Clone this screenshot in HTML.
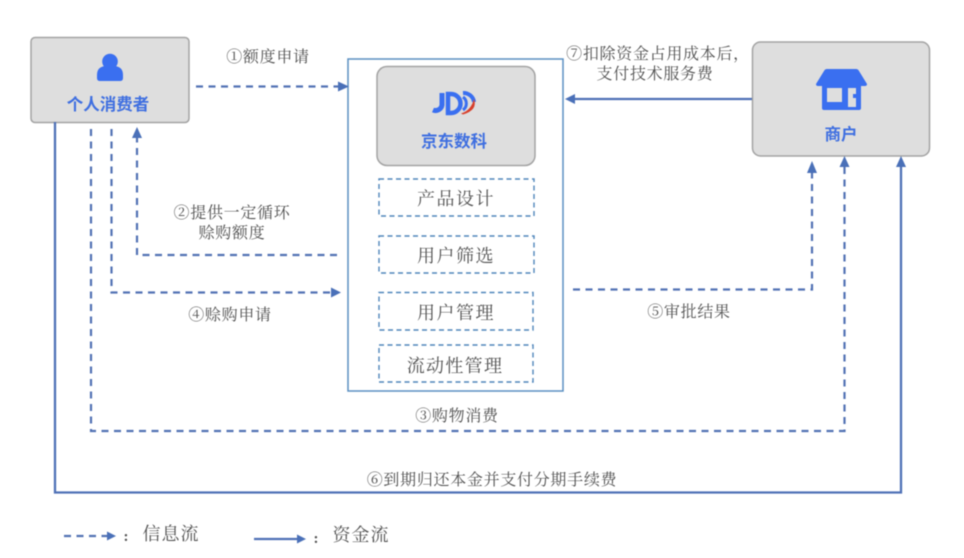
<!DOCTYPE html>
<html><head><meta charset="utf-8">
<style>
html,body{margin:0;padding:0;background:#fff;width:964px;height:558px;overflow:hidden}
svg{display:block;filter:blur(0.45px)}
.t{font-family:"Liberation Serif","Noto Serif CJK SC",serif;fill:#505050;text-anchor:middle}
.e{font-size:16px;letter-spacing:.7px}
.b{font-family:"Liberation Sans","Noto Sans CJK SC",sans-serif;font-weight:700;fill:#3f6fe0;text-anchor:middle;font-size:16.5px}
.d{fill:none;stroke:#5272b4;stroke-width:2.200;stroke-dasharray:7 5.500}
.s{fill:none;stroke:#4f71b6;stroke-width:2.300}
.a{fill:#4a70b8}
.x{fill:none;stroke:#4f86bb;stroke-width:1.400;stroke-dasharray:5 3.500}
</style></head><body>
<svg width="964" height="558" viewBox="0 0 964 558" xmlns="http://www.w3.org/2000/svg">
<!-- boxes -->
<rect x="31" y="37.500" width="158" height="85" rx="4" fill="#dedede" stroke="#a3a3a3" stroke-width="1.500"/>
<rect x="752.500" y="42" width="177" height="114" rx="8" fill="#dedede" stroke="#a3a3a3" stroke-width="1.500"/>
<rect x="348" y="59" width="215" height="332" fill="#fff" stroke="#5b8fc2" stroke-width="1.500"/>
<rect x="377" y="66.500" width="158" height="99" rx="10" fill="#dedede" stroke="#a3a3a3" stroke-width="1.500"/>
<rect x="379" y="179" width="155" height="37" class="x"/>
<rect x="379" y="236" width="155" height="37" class="x"/>
<rect x="379" y="292.500" width="154" height="37.500" class="x"/>
<rect x="379" y="345" width="154" height="37" class="x"/>
<!-- person icon -->
<circle cx="110" cy="61.500" r="7.800" fill="#3a6ff0"/>
<path d="M97 78 q0 3 3 3 h20 q3 0 3 -3 v-3 q0 -8 -8 -9 q-5 3 -10 0 q-8 1 -8 9 z" fill="#3a6ff0"/>
<!-- store icon -->
<path d="M825 69 h31 q2 0 3 2 l8 13 q0 2 -2 2 h-47 q-2 0 -2 -2 l8 -13 q1 -2 3 -2 z" fill="#3a6ff0"/>
<path d="M822 86 h39 v22 q0 2 -2 2 h-35 q-2 0 -2 -2 z" fill="#3a6ff0"/>
<rect x="827" y="88" width="15" height="14" fill="#dedede"/>
<rect x="848" y="88" width="8" height="19" fill="#dedede"/>
<rect x="853" y="94" width="4" height="4" fill="#3a6ff0"/>
<!-- JD logo -->
<path d="M442 93 V105 a6.500 6.500 0 0 1 -9 5" fill="none" stroke="#3a6ff0" stroke-width="5"/>
<path d="M448 94 h3 a9.500 9.500 0 0 1 0 19 h-3 z" fill="none" stroke="#3a6ff0" stroke-width="4.500"/>
<path d="M463 93 a10.500 10.500 0 0 1 11 9" fill="none" stroke="#3a6ff0" stroke-width="4"/>
<path d="M463 97 a8 8 0 0 1 0 13" fill="none" stroke="#3a6ff0" stroke-width="3"/>
<path d="M474 99 q4 11 -11 15.500 l-2 -1 q10 -3 13 -14.500 z" fill="#d8402c"/>
<!-- bold labels -->
<text class="b" x="108" y="110">个人消费者</text>
<text class="b" x="454" y="147">京东数科</text>
<text class="b" x="841" y="140">商户</text>
<!-- box labels -->
<text class="t" x="456" y="205" font-size="18" letter-spacing="1.500">产品设计</text>
<text class="t" x="456" y="262" font-size="18" letter-spacing="1.500">用户筛选</text>
<text class="t" x="456" y="319" font-size="18" letter-spacing="1.500">用户管理</text>
<text class="t" x="455" y="372" font-size="18" letter-spacing="1.300">流动性管理</text>
<!-- edge labels -->
<text class="t e" x="268" y="62">①额度申请</text>
<text class="t e" x="232" y="218">②提供一定循环</text>
<text class="t e" x="232" y="238">赊购额度</text>
<text class="t e" x="230" y="320">④赊购申请</text>
<text class="t e" x="689" y="317">⑤审批结果</text>
<text class="t e" x="457" y="421">③购物消费</text>
<text class="t e" x="492" y="485">⑥到期归还本金并支付分期手续费</text>
<text class="t e" x="658" y="59">⑦扣除资金占用成本后，</text>
<text class="t e" x="655" y="79">支付技术服务费</text>
<!-- connectors -->
<path class="d" d="M196 86.500 H340"/>
<path class="a" d="M338 81.500 L349 86.500 L338 91.500 z"/>
<path class="d" d="M337 255 H137 V136"/>
<path class="a" d="M132 138 L137 127 L142 138 z"/>
<path class="d" d="M111.500 129 V292.500 H332"/>
<path class="a" d="M331 287.500 L341 292.500 L331 297.500 z"/>
<path class="d" d="M91 129 V431 H844.500 V164"/>
<path class="a" d="M839.500 167 L844.500 156 L849.500 167 z"/>
<path class="d" d="M573 289.500 H812 V172"/>
<path class="a" d="M807 173 L812 161 L817 173 z"/>
<path class="s" d="M55 122 V492.500 H901 V164"/>
<path class="a" d="M896 167 L901 156 L906 167 z"/>
<path class="s" d="M752 99 H572"/>
<path class="a" d="M575 94 L565 99 L575 104 z"/>
<!-- legend -->
<path class="d" d="M64 536 H108" stroke-dasharray="7 4"/>
<path class="a" d="M107 531.500 L116 536 L107 540.500 z"/>
<text class="t" x="126" y="541" font-size="15" font-weight="700" fill="#333">:</text>
<text class="t" x="171" y="540" font-size="18" letter-spacing="1">信息流</text>
<path class="s" d="M254 539 H298"/>
<path class="a" d="M297 534.500 L306 539 L297 543.500 z"/>
<text class="t" x="316" y="543" font-size="15" font-weight="700" fill="#333">:</text>
<text class="t" x="361" y="541" font-size="18" letter-spacing="1">资金流</text>
</svg>
</body></html>
